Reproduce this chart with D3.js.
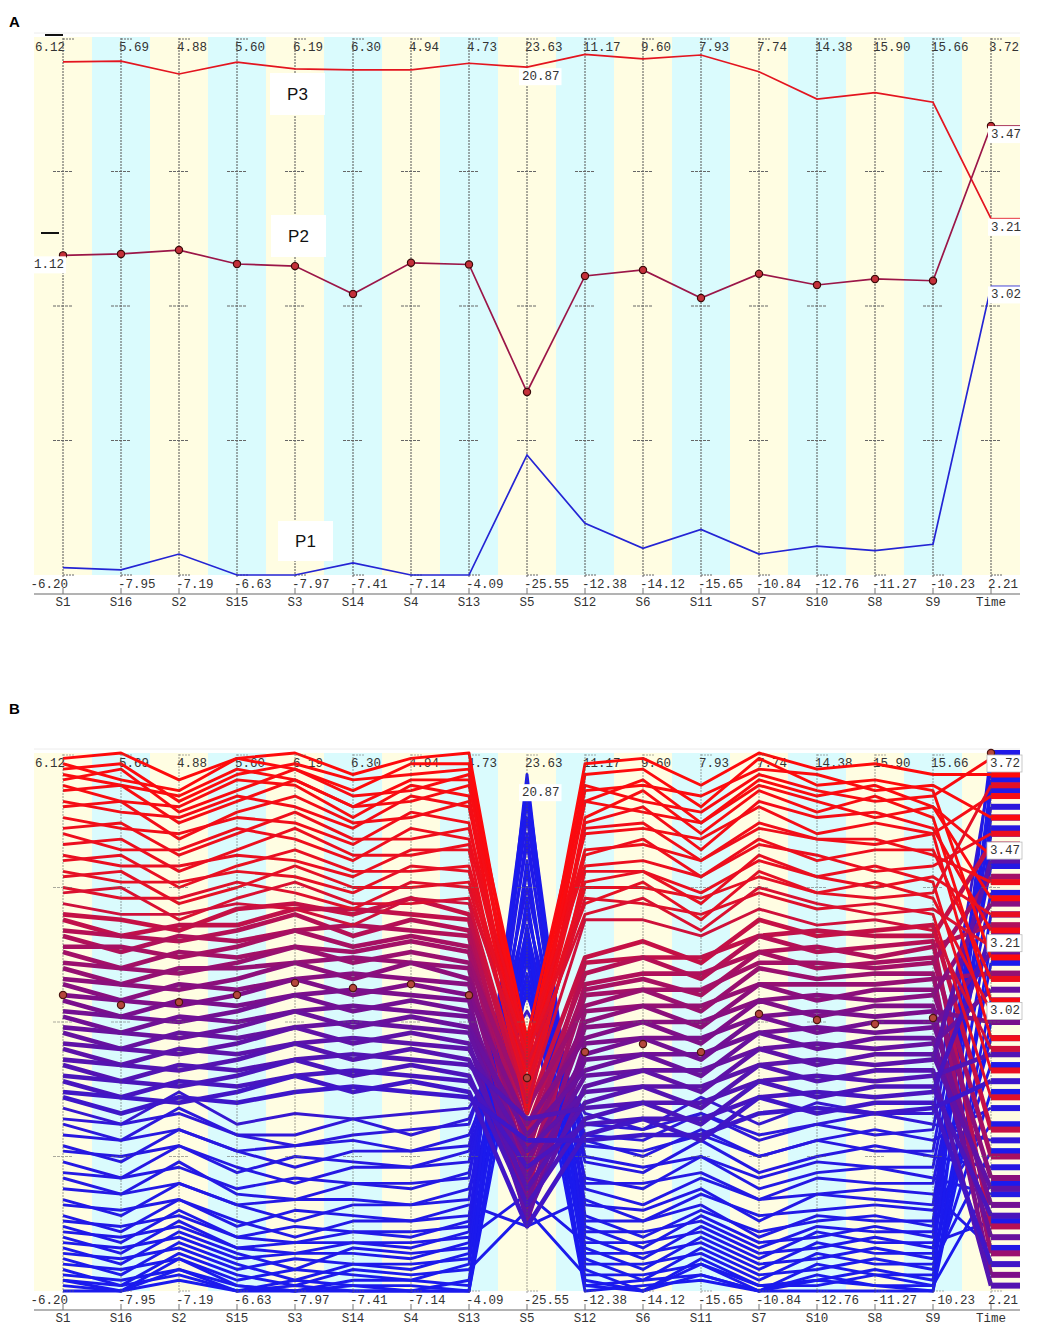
<!DOCTYPE html>
<html>
<head>
<meta charset="utf-8">
<script src="https://cdn.jsdelivr.net/npm/d3@7"></script>
<style>
  body { margin: 0; background: #fff; }
</style>
</head>
<body>
<div id="chart"></div>
<script>
// axes of the parallel coordinates, left to right
const dims = ["S1","S16","S2","S15","S3","S14","S4","S13","S5","S12","S6","S11","S7","S10","S8","S9","Time"];
const axisMax = [6.12, 5.69, 4.88, 5.60, 6.19, 6.30, 4.94, 4.73, 23.63, 11.17, 9.60, 7.93, 7.74, 14.38, 15.90, 15.66, 3.72];
const axisMin = [-6.20, -7.95, -7.19, -6.63, -7.97, -7.41, -7.14, -4.09, -25.55, -12.38, -14.12, -15.65, -10.84, -12.76, -11.27, -10.23, 2.21];

// panel A : three selected profiles (values per axis)
const profileP3 = [5.55, 5.08, 4.05, 5.03, 5.35, 5.46, 4.20, 4.30, 20.87, 10.41, 8.64, 7.14, 6.54, 11.25, 13.09, 12.52, 3.21];
const profileP2 = [1.12, 0.19, 0.10, 0.44, 0.16, -0.25, -0.13, 1.00, -8.82, 0.71, -0.67, -3.51, -0.44, 1.87, 3.68, 3.93, 3.47];
const profileP1 = [-6.03, -7.82, -6.72, -6.63, -7.97, -7.10, -7.14, -4.09, -14.58, -10.12, -12.94, -13.65, -10.12, -11.30, -10.04, -8.75, 3.02];

// panel B : highlighted profile (dots only)
const profileB = [0.58, -0.70, -0.71, 0.10, 0.14, 0.31, -0.25, 0.76, -6.08, -1.92, -3.23, -5.18, -1.27, 0.91, 2.21, 2.91, 3.72];

// panel B : all profiles, level on each axis (0 = axis minimum, 100 = axis maximum)
const levelsRed = [
  [99,100,95,99,100,96,99,100, 41, 98,99,94,100,97,98,96, 96],
  [98,95,93,99,97,93,98,98, 36, 96,97,90,99,94,95,93, 62],
  [97,98,91,96,98,95,96,97, 44, 93,94,92,97,96,93,94, 88],
  [96,94,92,97,95,90,95,95, 38, 91,95,87,95,92,94,90, 73],
  [95,97,89,93,97,92,93,96, 47, 94,91,89,96,93,91,92, 99],
  [94,91,90,95,94,88,94,92, 34, 88,93,85,93,89,92,88, 54],
  [93,94,87,91,95,90,91,94, 42, 91,89,87,94,91,88,90, 81],
  [91,89,88,92,90,86,92,90, 37, 87,90,82,91,88,89,86, 67],
  [90,91,84,89,92,87,88,91, 45, 85,86,84,90,85,87,85, 92],
  [88,86,85,88,87,83,89,87, 35, 86,87,80,87,84,83,85, 47],
  [86,87,81,85,89,84,84,86, 43, 82,83,80,86,84,84,81, 76],
  [85,82,82,86,84,80,86,84, 39, 81,84,77,84,80,82,82, 58],
  [83,84,78,82,86,81,81,83, 46, 79,80,77,83,81,78,79, 85],
  [81,79,79,81,80,77,82,82, 33, 78,78,74,80,77,79,76, 41],
  [80,81,75,79,82,78,78,79, 41, 76,78,72,81,77,75,77, 70],
  [78,76,76,78,77,74,79,78, 36, 75,75,73,77,74,76,73, 52],
  [77,78,72,75,79,75,75,76, 44, 72,76,69,78,74,73,74, 94],
  [75,73,73,76,74,71,76,75, 38, 73,72,70,74,71,72,70, 36],
  [74,75,69,73,76,72,72,73, 42, 70,73,67,75,72,70,71, 64],
  [72,70,70,72,71,68,73,72, 35, 69,69,66,71,68,69,67, 45]
];
const levelsPurple = [
  [70,69,67,71,72,70,73,70, 33, 62,65,61,69,66,67,68, 30],
  [69,66,68,68,71,71,70,69, 25, 61,62,62,66,67,66,66, 83],
  [67,66,65,67,70,66,69,67, 30, 59,62,58,66,63,64,65, 12],
  [66,63,66,65,67,68,67,66, 18, 57,59,59,63,64,62,64, 68],
  [64,64,62,64,67,64,66,64, 28, 56,58,55,63,60,61,62, 25],
  [63,60,63,62,64,63,65,63, 22, 55,56,56,61,61,60,61, 77],
  [61,60,59,61,64,61,63,61, 34, 53,56,52,60,58,59,59, 7],
  [60,57,60,60,61,62,61,60, 15, 52,53,53,57,57,57,58, 59],
  [58,57,56,58,61,58,61,58, 27, 50,53,49,57,54,56,56, 21],
  [57,54,57,56,58,59,58,57, 20, 49,50,50,54,55,54,55, 72],
  [55,54,53,55,58,55,57,55, 31, 47,50,46,54,51,53,53, 3],
  [54,51,54,53,55,56,55,54, 13, 46,47,47,51,52,51,52, 50],
  [52,51,50,52,55,52,54,52, 24, 44,47,43,51,48,50,50, 16],
  [51,48,51,50,52,53,52,51, 17, 43,44,44,48,49,48,49, 63],
  [49,48,47,49,52,49,51,49, 29, 41,44,40,48,45,47,47, 10],
  [48,45,48,47,49,50,49,48, 21, 40,41,41,45,46,45,46, 56],
  [46,45,44,46,49,46,48,46, 14, 38,41,37,45,42,44,44, 19],
  [45,42,45,44,46,47,46,45, 26, 37,38,38,42,43,42,43, 80],
  [43,42,41,43,46,43,45,43, 19, 35,38,34,42,39,41,41, 1],
  [42,39,42,41,43,44,43,42, 32, 34,35,35,39,40,39,40, 44],
  [40,39,38,40,43,40,42,40, 16, 32,35,31,39,36,38,38, 14],
  [39,36,39,38,40,41,40,39, 23, 31,32,32,36,37,36,37, 66],
  [37,36,35,37,40,37,39,37, 12, 29,32,28,36,33,35,35, 5],
  [36,33,36,35,37,38,37,36, 28, 28,29,29,33,34,33,34, 39]
];
const levelsBlue = [
  [34,31,37,31,33,32,33,34, 52, 33,30,36,31,35,33,33, 97],
  [32,31,33,29,29,32,29,32, 58, 31,30,33,28,31,33,31, 28],
  [31,28,34,29,27,29,30,31, 63, 29,28,33,29,31,29,30, 90],
  [29,28,30,26,27,28,26,29, 55, 28,25,30,25,28,30,28, 34],
  [27,24,30,26,23,26,26,27, 70, 27,26,29,25,28,26,26, 86],
  [26,25,27,22,25,24,23,26, 61, 24,22,28,22,25,27,25, 23],
  [24,21,27,23,20,23,23,24, 75, 25,23,25,21,24,23,23, 79],
  [22,21,23,19,21,20,19,22, 67, 21,19,25,19,22,23,21, 18],
  [21,18,24,18,17,20,20,21, 83, 20,20,22,17,21,20,20, 74],
  [19,18,20,16,17,17,16,19, 56, 19,16,21,17,18,19,18, 8],
  [17,14,20,16,13,16,16,17, 88, 16,15,19,13,18,17,16, 88],
  [16,15,17,12,15,14,13,16, 12, 17,13,18,14,15,16,15, 31],
  [14,11,17,13,10,13,13,14, 72, 13,13,16,10,14,13,13, 82],
  [13,12,14,10,12,11,10,13, 94, 14,10,15,11,13,14,12, 100],
  [12,9,15,10,9,11,11,12, 64, 11,11,13,8,12,11,11, 42],
  [11,10,12,8,9,9,8,11, 78, 12,8,14,9,10,12,10, 93],
  [10,7,13,8,7,9,9,10, 18, 9,9,11,6,11,9,9, 13],
  [9,8,10,6,7,7,6,9, 85, 10,6,12,7,8,10,8, 70],
  [8,5,11,7,4,8,7,8, 59, 7,7,9,4,9,7,7, 47],
  [7,6,8,4,6,5,4,7, 91, 8,4,10,5,6,8,6, 95],
  [6,3,9,5,2,5,5,6, 68, 5,5,7,2,7,5,5, 26],
  [5,4,6,2,4,3,2,5, 80, 6,2,8,3,4,6,4, 61],
  [4,1,7,3,1,4,3,4, 15, 3,3,5,0,5,3,3, 37],
  [3,2,4,0,2,1,0,2, 73, 4,0,6,1,2,4,2, 85],
  [2,0,6,1,0,2,2,1, 62, 1,2,3,0,3,1,1, 54],
  [2,1,3,0,1,0,0,0, 96, 2,0,5,1,1,3,1, 20],
  [1,0,4,1,0,1,1,0, 57, 0,1,2,0,2,1,0, 65],
  [0,0,2,0,0,0,0,0, 66, 1,0,3,0,0,0,0, 50]
];

const W = 1039, H = 1339;
const mono = "'Courier New', 'Liberation Mono', monospace";
const plotTop = 37, plotBot = 575, plotLeft = 34, plotRight = 1020;

const svg = d3.select("#chart").append("svg")
  .attr("width", W)
  .attr("height", H);

const x = d3.scalePoint().domain(dims).range([63, 991]);
const ys = dims.map((d, i) => d3.scaleLinear().domain([axisMin[i], axisMax[i]]).range([plotBot, plotTop]));
const lineGen = d3.line()
  .x((d, i) => x(dims[i]))
  .y((d, i) => ys[i](d));

// colour of a panel B profile from its level on S1
const levelColor = d3.scaleLinear()
  .domain([0, 30, 42, 54, 66, 76, 100])
  .range(["#1a1aee", "#2818e0", "#5214b4", "#7a0f8c", "#b0105a", "#e41026", "#ff0a0a"])
  .interpolate(d3.interpolateRgb);

function levelToValue(row) {
  return row.map((l, i) => axisMin[i] + l / 100 * (axisMax[i] - axisMin[i]));
}

function drawFrame(g) {
  g.selectAll("rect.band").data(dims).join("rect")
    .attr("class", "band")
    .attr("x", d => x(d) - 29)
    .attr("y", plotTop)
    .attr("width", 58)
    .attr("height", plotBot - plotTop)
    .attr("fill", (d, i) => i % 2 ? "#dafbfd" : "#fffde2");

  g.append("line")
    .attr("x1", plotLeft).attr("x2", plotRight)
    .attr("y1", 33).attr("y2", 33)
    .attr("stroke", "#ececec");

  g.append("line")
    .attr("x1", plotLeft).attr("x2", plotRight)
    .attr("y1", 594).attr("y2", 594)
    .attr("stroke", "#9a9a9a")
    .attr("stroke-width", 1.5);

  // value labels at both ends of each axis
  g.selectAll("text.top").data(dims).join("text")
    .attr("class", "top")
    .attr("x", (d, i) => i === 0 ? x(d) + 2 : x(d) - 2)
    .attr("y", 51)
    .attr("text-anchor", (d, i) => i === 0 ? "end" : "start")
    .style("font-family", mono)
    .style("font-size", "12.5px")
    .style("fill", "#333")
    .text((d, i) => axisMax[i].toFixed(2));

  g.selectAll("text.bot").data(dims).join("text")
    .attr("class", "bot")
    .attr("x", (d, i) => i === 0 ? x(d) + 5 : x(d) - 3)
    .attr("y", 588)
    .attr("text-anchor", (d, i) => i === 0 ? "end" : "start")
    .style("font-family", mono)
    .style("font-size", "12.5px")
    .style("fill", "#333")
    .text((d, i) => axisMin[i].toFixed(2));

  g.selectAll("text.name").data(dims).join("text")
    .attr("class", "name")
    .attr("x", d => x(d))
    .attr("y", 606)
    .attr("text-anchor", "middle")
    .style("font-family", mono)
    .style("font-size", "12.5px")
    .style("fill", "#333")
    .text(d => d);

  g.selectAll("line.nameTick").data(dims).join("line")
    .attr("class", "nameTick")
    .attr("x1", d => x(d)).attr("x2", d => x(d))
    .attr("y1", 588).attr("y2", 594)
    .attr("stroke", "#777");
}

function drawAxes(g, opacity) {
  const a = g.append("g").attr("opacity", opacity);
  a.selectAll("line.axis").data(dims).join("line")
    .attr("class", "axis")
    .attr("x1", d => x(d)).attr("x2", d => x(d))
    .attr("y1", plotTop + 1).attr("y2", plotBot + 2)
    .attr("stroke", "#555")
    .attr("stroke-width", 1)
    .attr("stroke-dasharray", "2,1");

  a.selectAll("line.topTick").data(dims).join("line")
    .attr("class", "topTick")
    .attr("x1", d => x(d)).attr("x2", d => x(d) + 12)
    .attr("y1", plotTop + 2).attr("y2", plotTop + 2)
    .attr("stroke", "#666")
    .attr("stroke-dasharray", "2,1");

  a.selectAll("line.botTick").data(dims).join("line")
    .attr("class", "botTick")
    .attr("x1", d => x(d)).attr("x2", d => x(d) + 12)
    .attr("y1", plotBot).attr("y2", plotBot)
    .attr("stroke", "#666")
    .attr("stroke-dasharray", "2,1");

  const quarters = [0.25, 0.5, 0.75];
  dims.forEach(d => {
    a.selectAll(null).data(quarters).join("line")
      .attr("x1", x(d) - 10).attr("x2", x(d) + 10)
      .attr("y1", q => plotTop + q * (plotBot - plotTop))
      .attr("y2", q => plotTop + q * (plotBot - plotTop))
      .attr("stroke", "#666")
      .attr("stroke-dasharray", "3,1");
  });
}

function boxLabel(g, xPos, yCenter, txt, anchor, border) {
  const w = txt.length * 7.5 + 5;
  const x0 = anchor === "end" ? xPos - w + 2 : xPos - 2;
  g.append("rect")
    .attr("x", x0).attr("y", yCenter - 8)
    .attr("width", w).attr("height", 17)
    .attr("fill", "#fff")
    .attr("stroke", border ? "#bbb" : "none")
    .attr("stroke-width", 0.8);
  g.append("text")
    .attr("x", anchor === "end" ? xPos : xPos + 1)
    .attr("y", yCenter + 4)
    .attr("text-anchor", anchor)
    .style("font-family", mono)
    .style("font-size", "12.5px")
    .style("fill", "#333")
    .text(txt);
}

function timeStub(g, row, color, width) {
  const yT = ys[16](row[16]);
  g.append("line")
    .attr("x1", x("Time")).attr("x2", plotRight)
    .attr("y1", yT).attr("y2", yT)
    .attr("stroke", color)
    .attr("stroke-width", width);
}

// ---------------- panel A ----------------
const gA = svg.append("g");
drawFrame(gA);
drawAxes(gA, 1);

gA.append("text")
  .attr("x", 9).attr("y", 27)
  .style("font-family", "Arial, 'Liberation Sans', sans-serif")
  .style("font-weight", "bold")
  .style("font-size", "15px")
  .text("A");

// stray black marks near the S1 axis
gA.append("line").attr("x1", 45).attr("x2", 63).attr("y1", 35).attr("y2", 35)
  .attr("stroke", "#111").attr("stroke-width", 2);
gA.append("line").attr("x1", 41).attr("x2", 59).attr("y1", 233).attr("y2", 233)
  .attr("stroke", "#111").attr("stroke-width", 2);

const profilesA = [
  {name: "P3", values: profileP3, color: "#e3141f", box: [270, 73, 55, 42]},
  {name: "P2", values: profileP2, color: "#9b1648", box: [271, 215, 55, 42]},
  {name: "P1", values: profileP1, color: "#2424d4", box: [278, 521, 55, 40]}
];

profilesA.forEach(p => {
  gA.append("rect")
    .attr("x", p.box[0]).attr("y", p.box[1])
    .attr("width", p.box[2]).attr("height", p.box[3])
    .attr("fill", "#fff");
  gA.append("text")
    .attr("x", p.box[0] + p.box[2] / 2)
    .attr("y", p.box[1] + p.box[3] / 2 + 6)
    .attr("text-anchor", "middle")
    .style("font-family", "Arial, 'Liberation Sans', sans-serif")
    .style("font-size", "17px")
    .style("fill", "#111")
    .text(p.name);
});

profilesA.forEach(p => {
  gA.append("path")
    .datum(p.values)
    .attr("fill", "none")
    .attr("stroke", p.color)
    .attr("stroke-width", 1.7)
    .attr("d", lineGen);
  timeStub(gA, p.values, p.color, 1.7);
});

gA.selectAll("circle.p2").data(profileP2).join("circle")
  .attr("class", "p2")
  .attr("cx", (d, i) => x(dims[i]))
  .attr("cy", (d, i) => ys[i](d))
  .attr("r", 3.6)
  .attr("fill", "#c4303a")
  .attr("stroke", "#3a0a0a")
  .attr("stroke-width", 1.2);

boxLabel(gA, x("S5") - 6, ys[8](profileP3[8]) + 9, profileP3[8].toFixed(2), "start", false);
boxLabel(gA, x("S1") + 1, ys[0](profileP2[0]) + 9, profileP2[0].toFixed(2), "end", false);
profilesA.forEach(p => {
  boxLabel(gA, x("Time") - 1, ys[16](p.values[16]) + 8, p.values[16].toFixed(2), "start", false);
});

// ---------------- panel B ----------------
const gB = svg.append("g").attr("transform", "translate(0,716)");
drawFrame(gB);

gB.append("text")
  .attr("x", 9).attr("y", -2)
  .style("font-family", "Arial, 'Liberation Sans', sans-serif")
  .style("font-weight", "bold")
  .style("font-size", "15px")
  .text("B");

const groupsB = [
  {rows: levelsBlue, width: 2.9},
  {rows: levelsPurple, width: 4.6},
  {rows: levelsRed, width: 2.9}
];
groupsB.forEach(grp => {
  grp.rows.forEach(row => {
    gB.append("path")
      .datum(levelToValue(row))
      .attr("fill", "none")
      .attr("stroke", levelColor(row[0]))
      .attr("stroke-width", grp.width)
      .attr("stroke-linejoin", "round")
      .attr("d", lineGen);
  });
});
// stubs right of the Time axis
groupsB.forEach(grp => {
  grp.rows.forEach(row => {
    timeStub(gB, levelToValue(row), levelColor(row[0]), 6);
  });
});

drawAxes(gB, 0.55);

gB.selectAll("circle.pb").data(profileB).join("circle")
  .attr("class", "pb")
  .attr("cx", (d, i) => x(dims[i]))
  .attr("cy", (d, i) => ys[i](d))
  .attr("r", 3.6)
  .attr("fill", "#b5473c")
  .attr("stroke", "#4a1410")
  .attr("stroke-width", 1.2);

boxLabel(gB, x("S5") - 6, ys[8](profileP3[8]) + 9, profileP3[8].toFixed(2), "start", false);
boxLabel(gB, x("Time") - 2, ys[16](axisMax[16]) + 10, axisMax[16].toFixed(2), "start", true);
[profileP2, profileP3, profileP1].forEach(v => {
  boxLabel(gB, x("Time") - 2, ys[16](v[16]) + 8, v[16].toFixed(2), "start", true);
});
</script>
</body>
</html>
